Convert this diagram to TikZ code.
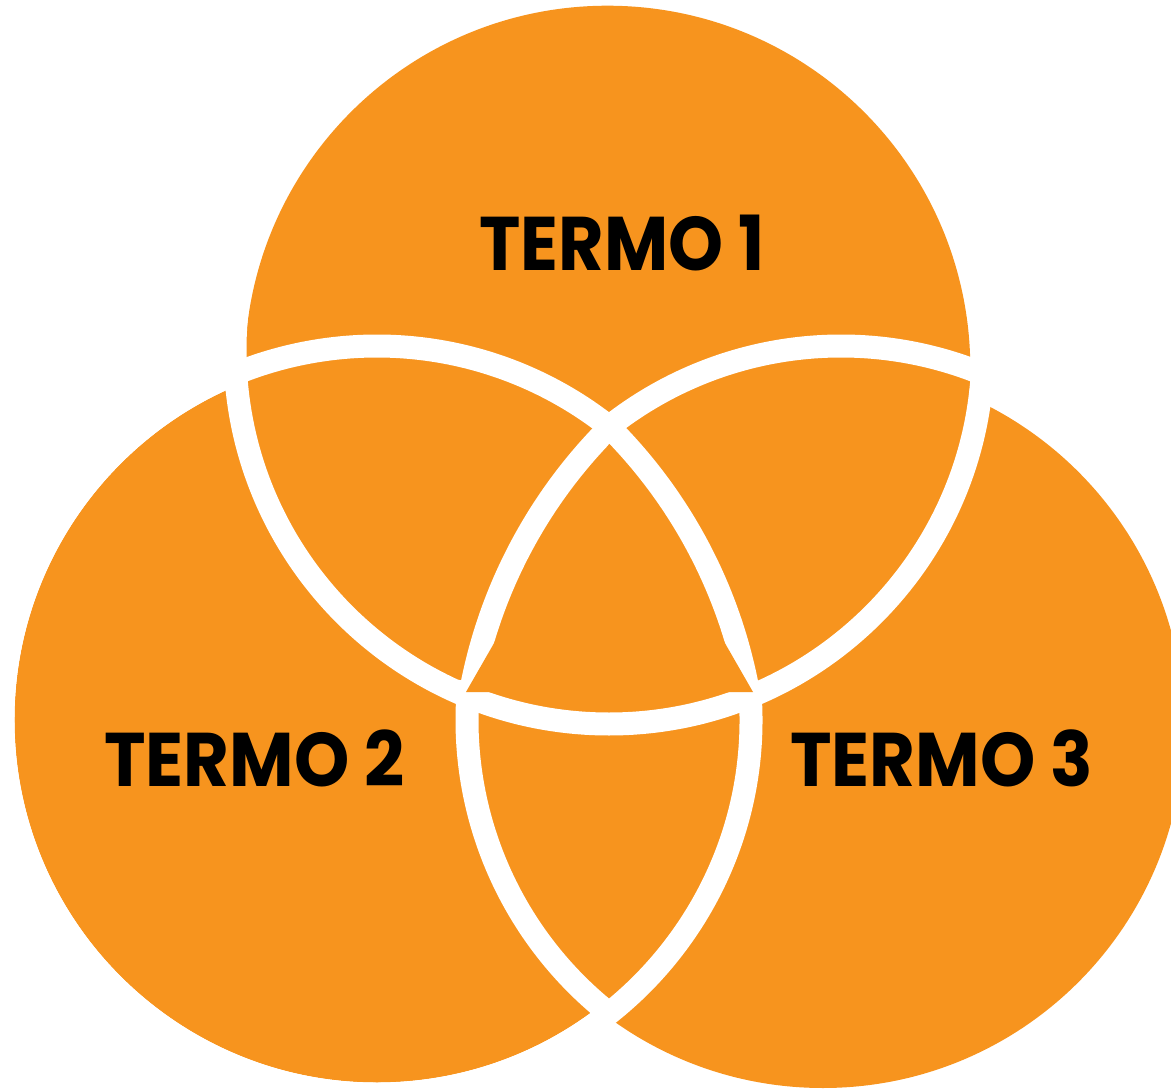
\documentclass[tikz,border=0pt]{standalone}
\usepackage{fontspec}
\newfontfamily\pop{Poppins}
\definecolor{vorange}{RGB}{247,148,30}
\begin{document}
\begin{tikzpicture}[x=1pt,y=-1pt,
  blob/.style={fill=vorange},
  ring/.style={draw=white,line width=23pt},
  lbl/.style={font=\pop\bfseries\fontsize{76}{80}\selectfont, text=black, anchor=base, inner sep=0pt}]
\useasboundingbox (0,0) rectangle (1171,1089);
% orange discs
\fill[blob] (607.5,368.5) circle[radius=362.8pt];
\fill[blob] (377,720) circle[radius=362.5pt];
\fill[blob] (823,727) circle[radius=361pt];
% white rings
\draw[ring] (609,350) circle[radius=374pt];
\draw[ring] (377,720) ++(-5:374) arc[start angle=-5, end angle=308.5, radius=374];
\draw[ring] (841,720) ++(128.5:374) arc[start angle=128.5, end angle=186, radius=374];
\draw[ring] (841,720) ++(231:374) arc[start angle=231, end angle=295, radius=374];
% sides of the central region
\draw[ring] (962.5,781.5) ++(190:500) arc[start angle=190, end angle=225, radius=500];
\draw[ring] (256.5,781.5) ++(-45:500) arc[start angle=-45, end angle=-10, radius=500];
% orange corner patches of the central region
\fill[blob] (497,638) -- (466,692) -- (501,692) -- cycle;
\fill[blob] (722,638) -- (753,692) -- (718,692) -- cycle;
\fill[blob] (601,460) -- (609,444) -- (613,449) -- (609,472) -- cycle;
% labels
\node[lbl] (t1) at (622,270) {\scalebox{0.92}[1]{TERMO 1}};
\node[lbl] (t2) at (254.5,786) {\scalebox{0.925}[1]{TERMO 2}};
\node[lbl] (t3) at (941.5,786) {\scalebox{0.925}[1]{TERMO 3}};
\end{tikzpicture}
\end{document}
